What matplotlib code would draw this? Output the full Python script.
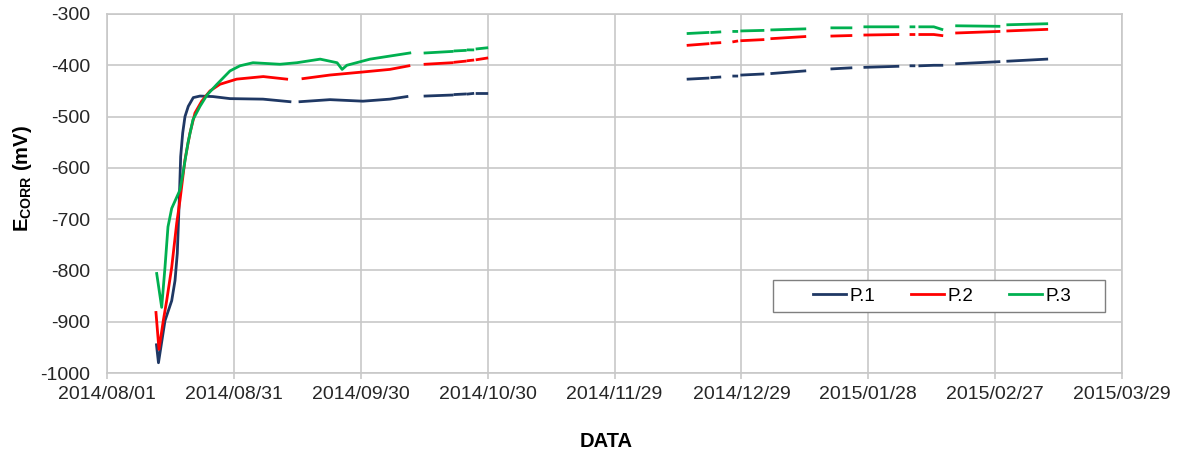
import numpy as np
import pandas as pd
import matplotlib
matplotlib.use("Agg")
import matplotlib.pyplot as plt
import matplotlib.dates as mdates
from matplotlib.patches import Rectangle

plt.rcParams['font.family'] = ['Liberation Sans', 'DejaVu Sans']
plt.rcParams['mathtext.fontset'] = 'custom'
plt.rcParams['mathtext.rm'] = 'Liberation Sans'
plt.rcParams['mathtext.bf'] = 'Liberation Sans:bold'
plt.rcParams['axes.unicode_minus'] = False

start = pd.Timestamp('2014-08-01')

# readings, x = days after 2014/08/01, y = E_corr in mV
# first (continuous) part, one list per electrode
p1_days = [11.70, 12.17, 13.71, 15.30, 16.08, 16.62, 17.09, 17.42, 17.90, 18.44,
           19.22, 20.40, 21.99, 25.06, 29.08, 36.88, 43.26, 44.5, 45.63, 52.72,
           60.52, 66.90, 70.92]
p1_mv = [-945, -980, -898, -859, -820, -767, -663, -578, -532, -500,
         -480, -463, -460, -461, -465, -466, -471, np.nan, -471, -467,
         -470, -466, -461]

p2_days = [11.58, 12.29, 13.31, 14.11, 15.30, 16.48, 17.26, 18.44, 19.62, 20.80,
           22.39, 24.35, 26.71, 30.66, 36.95, 42.48, 44.0, 46.34, 52.72, 60.59,
           66.90, 71.39]
p2_mv = [-882, -954, -898, -859, -794, -708, -663, -584, -532, -493,
         -470, -450, -437, -427, -422, -427, np.nan, -426, -419, -413,
         -408, -401]

p3_days = [11.75, 12.93, 13.71, 14.42, 15.30, 17.26, 17.97, 19.15, 20.33, 21.99,
           23.64, 26.00, 29.08, 31.44, 34.52, 40.90, 44.90, 50.40, 54.40, 55.60,
           56.70, 62.20, 71.60]
p3_mv = [-806, -872, -794, -715, -679, -643, -610, -551, -506, -480,
         -458, -437, -411, -401, -395, -398, -395, -388, -395, -408,
         -400, -388, -376]

# later logger segments (same times for the three electrodes), nan = no data
seg_days = [73.0, 75.2, 81.6, 82.0, 82.3, 84.7, 85.0, 85.4, 86.5, 87.0, 87.5, 89.8,
            120.0, 137.4, 142.1, 142.6, 143.0, 144.9, 146.5, 148.2, 148.9, 149.5,
            150.1, 155.1, 156.0, 157.2, 165.0, 168.0, 171.4, 175.9, 177.5, 179.2,
            187.0, 188.5, 190.1, 190.8, 191.5, 192.2, 195.5, 197.4, 199.0, 200.9,
            210.9, 212.0, 213.0, 222.2]
nan = np.nan
p1_seg = [nan, -460, -458, nan, -457, -456, nan, -456, -455, nan, -455, -455,
          nan, -427, -425, nan, -424, -423, nan, -421, -421, nan,
          -419, -417, nan, -416, -411, nan, -407, -405, nan, -404,
          -402, nan, -401, -401, nan, -401, -400, -400, nan, -397,
          -393, nan, -392, -388]
p2_seg = [nan, -398, -395, nan, -394, -392, nan, -391, -390, nan, -389, -386,
          nan, -361, -358, nan, -357, -356, nan, -354, -353, nan,
          -352, -350, nan, -348, -344, nan, -343, -342, nan, -341,
          -340, nan, -340, -340, nan, -340, -340, -342, nan, -337,
          -334, nan, -333, -330]
p3_seg = [nan, -376, -373, nan, -372, -371, nan, -370, -370, nan, -368, -366,
          nan, -338, -336, nan, -336, -335, nan, -334, -334, nan,
          -333, -332, nan, -331, -329, nan, -327, -327, nan, -325,
          -325, nan, -325, -325, nan, -325, -325, -330, nan, -323,
          -324, nan, -321, -319]

series = [
    ("P.1", p1_days, p1_mv, p1_seg, "#1F3864"),
    ("P.2", p2_days, p2_mv, p2_seg, "#FF0000"),
    ("P.3", p3_days, p3_mv, p3_seg, "#00B050"),
]


def to_dates(days):
    return start + pd.to_timedelta(np.asarray(days, dtype=float), unit="D")


fig = plt.figure(figsize=(11.81, 4.55), dpi=100)
ax = fig.add_axes([107 / 1181, 1 - 373 / 455, 1015 / 1181, 359 / 455])

for name, d, v, s, col in series:
    x = to_dates(list(d) + seg_days)
    y = np.array(list(v) + s, dtype=float)
    ax.plot(x, y, color=col, lw=2.0, label=name, zorder=2)

ax.set_xlim(to_dates([0])[0], to_dates([240])[0])
ax.set_xticks(to_dates(np.arange(0, 241, 30)))
ax.xaxis.set_major_formatter(mdates.DateFormatter('%Y/%m/%d'))
ax.set_ylim(-1000, -300)
ax.set_yticks(np.arange(-1000, -299, 100))

ax.grid(True, color='#C8C8C8', lw=1.2, zorder=0)
ax.set_axisbelow(True)
for sp in ax.spines.values():
    sp.set_color('#C8C8C8')
    sp.set_linewidth(1.2)

ax.tick_params(axis='x', length=4.3, width=1.2, color='#C8C8C8', pad=5,
               labelsize=14, labelcolor='#262626')
ax.tick_params(axis='y', length=0, pad=12, labelsize=14, labelcolor='#262626')

ax.set_xlabel('DATA', fontsize=14.5, fontweight='bold', va='center')
ax.xaxis.set_label_coords((606 - 107) / 1015, -0.192)
ax.set_ylabel(r'$\mathbf{E_{CORR}}$ (mV)', fontsize=14.5, fontweight='bold', va='center')
ax.yaxis.set_label_coords(-0.0828, 0.542)

# legend box
ax.add_patch(Rectangle(((773 - 107) / 1015, (373 - 311.5) / 359), 332 / 1015, 31.5 / 359,
                       transform=ax.transAxes, facecolor='white', edgecolor='#7F7F7F',
                       lw=1.0, zorder=3))
leg = ax.legend(loc='center', bbox_to_anchor=((942 - 107) / 1015, (373 - 296) / 359),
                ncol=3, frameon=False, fontsize=13.5, handlelength=1.76,
                handletextpad=0.16, columnspacing=1.93, borderaxespad=0)
leg.set_zorder(4)

fig.savefig('out.png', dpi=100)
